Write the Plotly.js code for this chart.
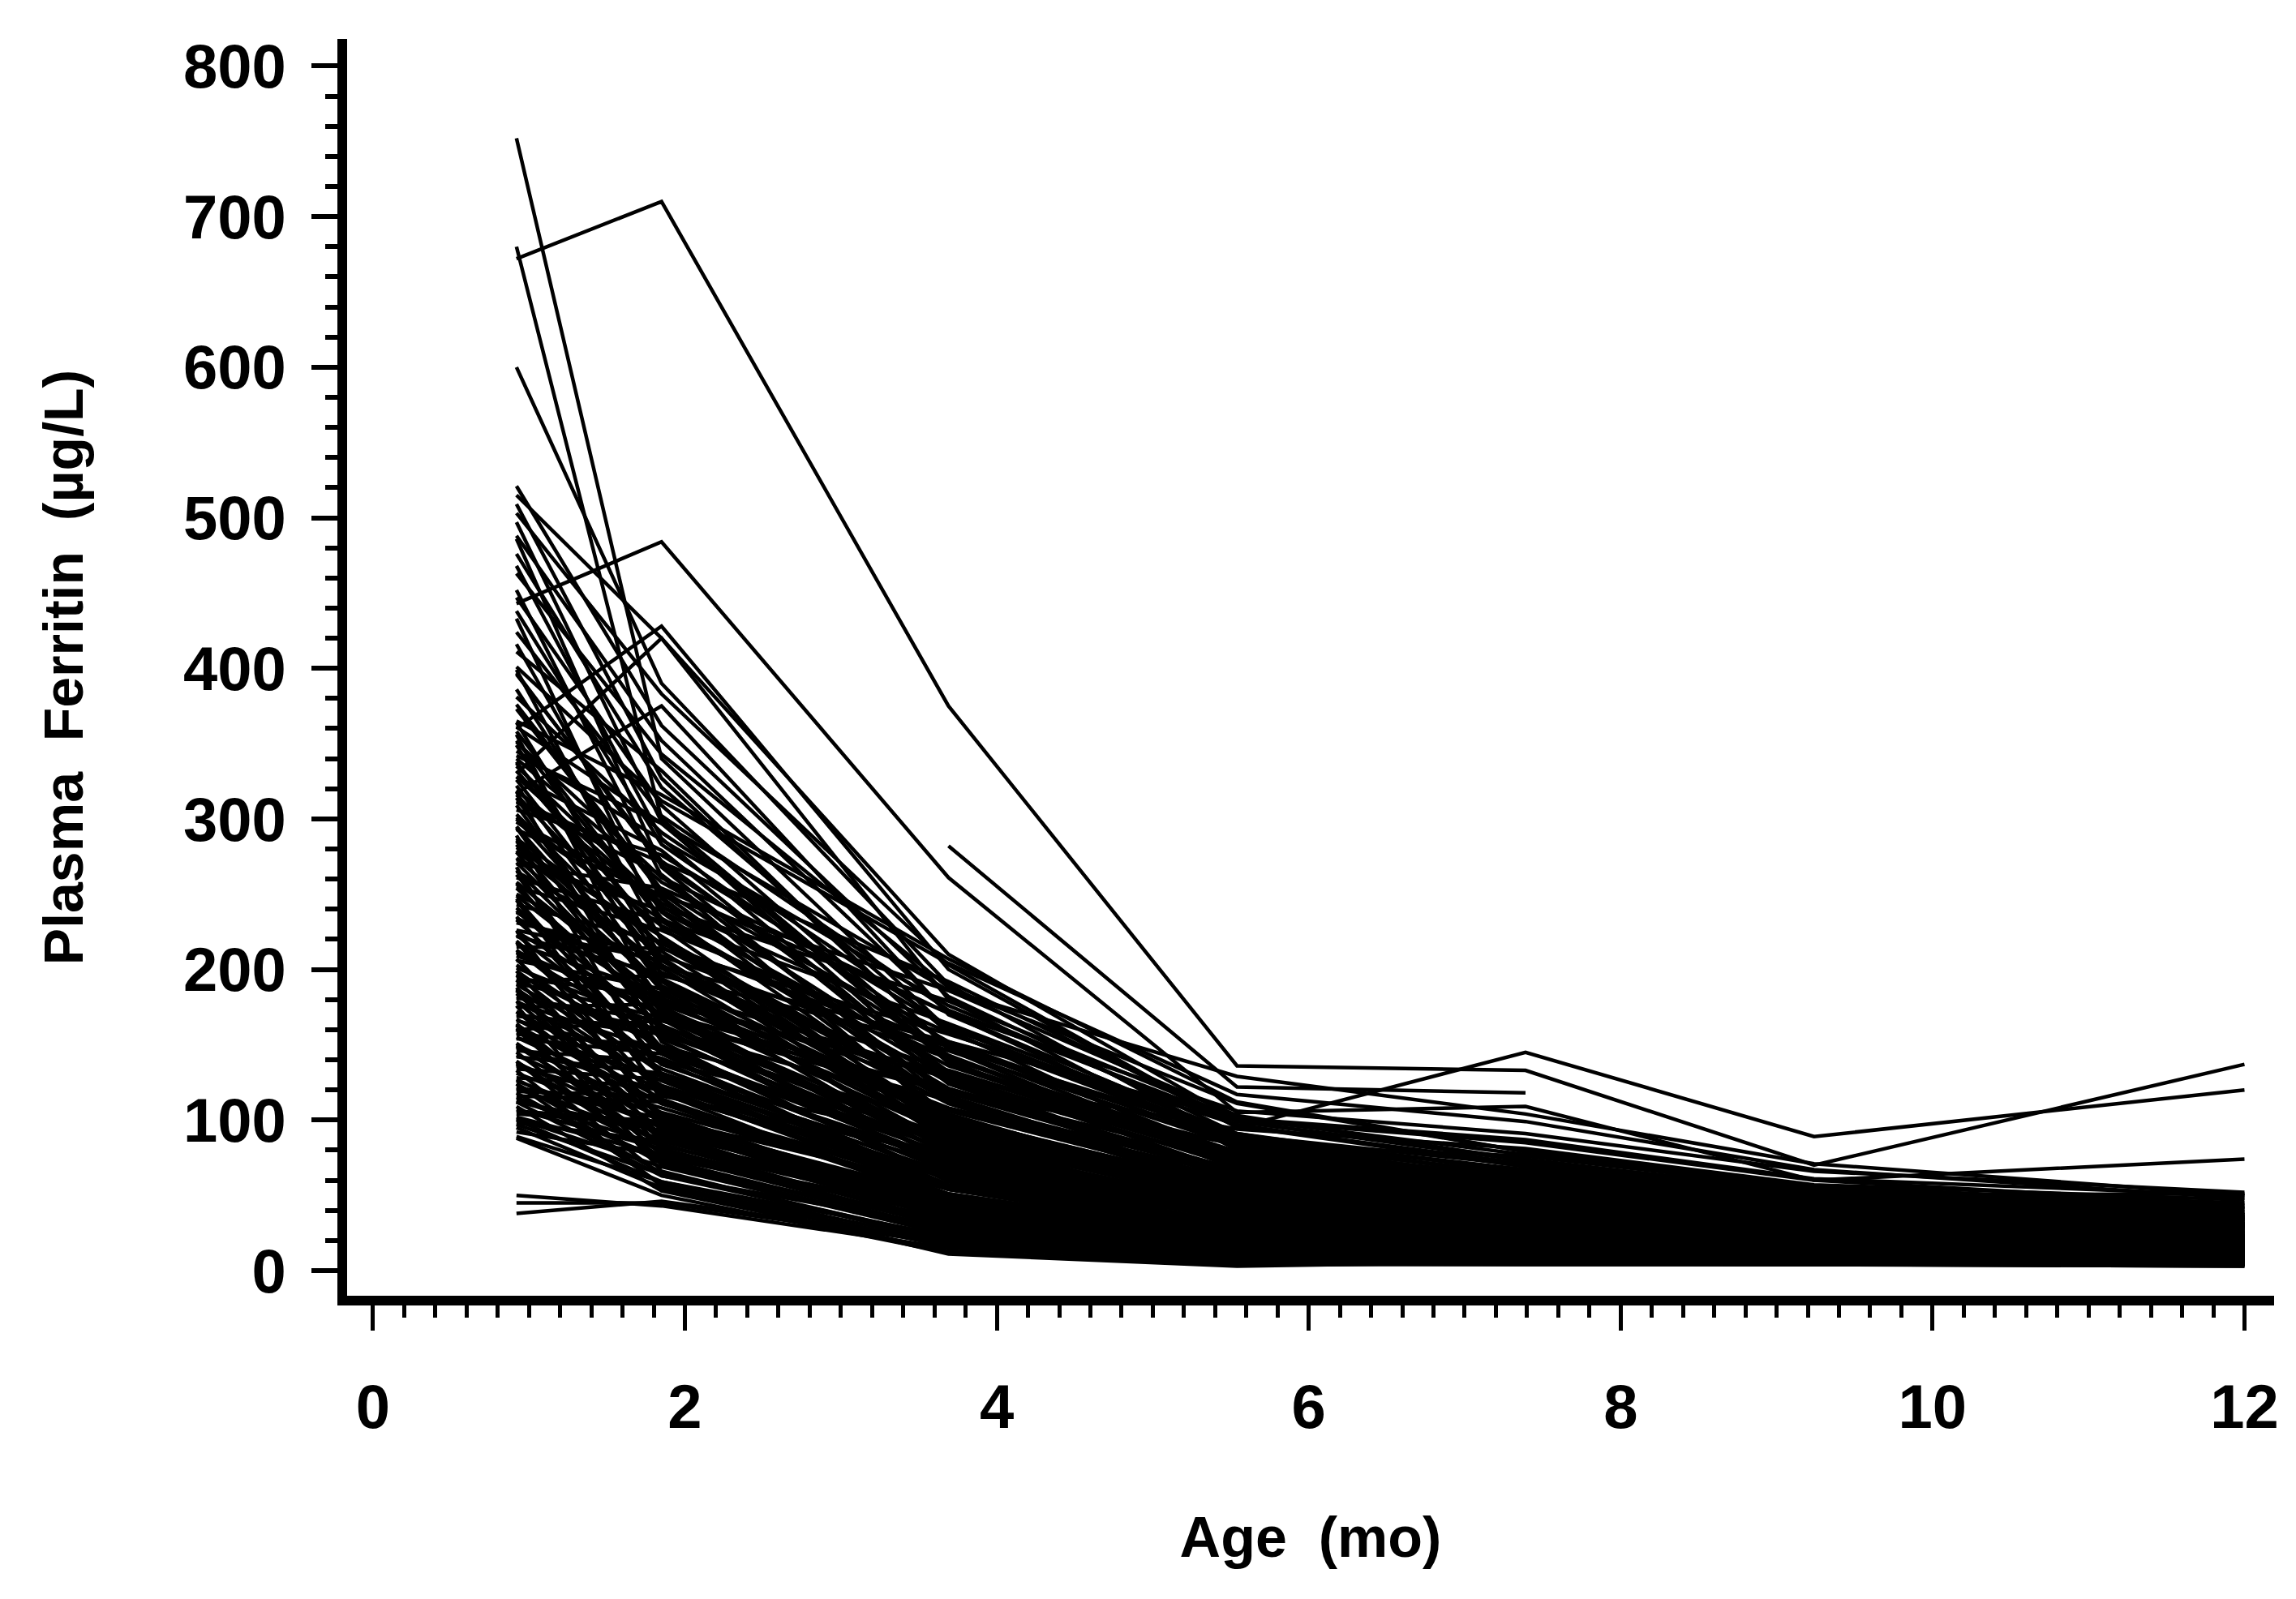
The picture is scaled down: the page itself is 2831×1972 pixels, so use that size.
<!DOCTYPE html>
<html>
<head>
<meta charset="utf-8">
<script src="https://cdn.plot.ly/plotly-3.0.1.min.js"></script>
<style>
  html, body { margin: 0; padding: 0; background: #ffffff; }
  #chart { width: 2831px; height: 1972px; }
</style>
</head>
<body>
<div id="chart"></div>
<script>
// visit ages in months (4, 8, 16, 24, 32, 40, 52 weeks)
var ageMonths = [0.92, 1.85, 3.69, 5.54, 7.39, 9.24, 12.0];

// plasma ferritin (ug/L) per visit, one entry per infant (same order in every array)
var ferritin4wk = [
  672, 752, 680, 600, 443, null, 360, 330, 317, 515,
  521, 509, 503, 497, 488, 486, 476, 468, 463, 452,
  447, 438, 433, 424, 416, 411, 399, 396, 386, 381,
  373, 364, 361, 352, 349, 340, 337, 328, 326, 319,
  314, 311, 303, 301, 295, 293, 286, 283, 281, 274,
  273, 266, 265, 258, 257, 250, 249, 243, 241, 234,
  233, 226, 225, 219, 217, 211, 209, 203, 201, 318,
  356, 289, 246, 306, 261, 197, 196, 191, 190, 184,
  182, 179, 178, 172, 170, 167, 166, 161, 158, 155,
  154, 149, 148, 143, 142, 137, 136, 131, 128, 127,
  122, 121, 116, 115, 112, 107, 106, 101, 98, 97,
  92, 89, 186, 163, 139, 124, 109, 199, 176, 133,
  50, 45, 38, 95, 88, 279, 238, 351, 212, 401, 298,
  345, 335, 312, 298, 287, 270, 255, 231, 222, 206,
  194, 181, 169, 157, 146, 134, 119, 104, 338, 322,
  309, 294, 278, 263, 247, 235, 218, 207, 193, 179,
  164, 151, 139, 124, 112, 100, 268, 226, 188, 160,
  145, 118, 365, 342, 328, 215, 192, 175, 160, 397,
  376, 358, 332, 316, 300, 285, 271, 254, 239, 223,
  213, 199, 187, 172, 163, 150, 138, 126, 113, 102
];
var ferritin8wk = [
  710, 340, 300, 390, 484, null, 428, 420, 375, 420,
  362, 327, 383, 298, 352, 268, 321, 287, 343, 262,
  309, 283, 228, 302, 247, 332, 219, 272, 238, 291,
  251, 208, 297, 233, 192, 258, 221, 279, 203, 242,
  176, 263, 207, 229, 186, 248, 198, 167, 222, 188,
  239, 172, 212, 181, 148, 201, 174, 218, 161, 193,
  144, 206, 169, 131, 184, 156, 177, 139, 163, 152,
  171, 128, 118, 276, 232, 149, 121, 168, 134, 104,
  159, 126, 146, 99, 157, 114, 141, 94, 129, 111,
  144, 91, 119, 102, 131, 84, 108, 96, 122, 79,
  101, 87, 112, 74, 93, 81, 99, 69, 86, 64,
  77, 59, 81, 71, 63, 57, 53, 96, 66, 56,
  43, 45, 46, 55, 50, 202, 179, 261, 171, 312, 249,
  286, 244, 271, 233, 217, 254, 226, 209, 197, 187,
  183, 166, 161, 149, 139, 127, 116, 97, 206, 189,
  179, 163, 159, 144, 137, 129, 117, 111, 101, 97,
  87, 83, 75, 71, 63, 59, 113, 99, 89, 77,
  73, 65, 316, 297, 241, 214, 196, 177, 166, 269,
  253, 234, 221, 215, 194, 189, 175, 169, 154, 147,
  137, 131, 123, 119, 111, 105, 95, 91, 83, 77
];
var ferritin16wk = [
  375, 160, 140, 190, 261, 282, 200, 180, 170, 210,
  182, 148, 203, 128, 171, 112, 158, 127, 188, 98,
  142, 151, 96, 173, 118, 147, 89, 132, 104, 162,
  111, 86, 138, 121, 79, 152, 94, 124, 101, 129,
  71, 116, 88, 141, 76, 103, 119, 66, 99, 84,
  136, 73, 94, 108, 61, 87, 77, 114, 67, 93,
  54, 102, 81, 49, 91, 69, 106, 57, 74, 59,
  64, 56, 44, 161, 126, 71, 51, 83, 63, 41,
  79, 54, 73, 39, 89, 49, 66, 37, 61, 47,
  81, 34, 56, 43, 69, 31, 51, 39, 62, 29,
  46, 35, 54, 27, 41, 33, 49, 24, 37, 21,
  31, 19, 29, 25, 22, 17, 13, 33, 19, 11,
  15, 18, 20, 16, 12, 152, 128, 171, 119, 204, 186,
  176, 158, 192, 164, 146, 171, 149, 141, 133, 129,
  121, 113, 107, 99, 91, 87, 77, 67, 111, 101,
  97, 87, 85, 77, 73, 65, 63, 57, 55, 47,
  45, 39, 37, 31, 29, 23, 49, 41, 37, 29,
  27, 21, 207, 186, 179, 157, 149, 131, 119, 143,
  131, 125, 115, 113, 103, 99, 91, 87, 79, 77,
  71, 69, 63, 61, 56, 54, 48, 46, 41, 39
];
var ferritin24wk = [
  136, 70, 60, 85, 105, 122, 95, 80, 90, 100,
  91, 74, 96, 59, 82, 54, 86, 51, 111, 44,
  71, 77, 41, 99, 63, 67, 37, 73, 49, 87,
  53, 39, 76, 64, 34, 84, 47, 61, 56, 69,
  29, 57, 46, 79, 35, 51, 67, 27, 53, 43,
  75, 33, 49, 63, 25, 45, 37, 59, 31, 47,
  23, 55, 41, 21, 46, 36, 57, 26, 39, 27,
  29, 24, 19, 89, 71, 33, 23, 44, 31, 17,
  41, 25, 37, 16, 48, 22, 34, 15, 29, 21,
  43, 14, 26, 19, 35, 13, 24, 17, 31, 12,
  21, 15, 27, 11, 18, 14, 25, 9, 17, 8,
  13, 7, 11, 10, 8, 6, 4, 13, 5, 3,
  6, 8, 9, 5, 4, 101, 94, 106, 84, 117, 129,
  96, 87, 99, 91, 83, 89, 85, 77, 75, 73,
  67, 64, 59, 56, 51, 49, 43, 39, 57, 55,
  49, 47, 42, 41, 36, 35, 30, 29, 26, 25,
  21, 20, 17, 16, 13, 12, 23, 18, 16, 12,
  11, 8, 112, 103, 101, 97, 89, 83, 73, 71,
  65, 63, 57, 58, 52, 51, 46, 45, 40, 39,
  36, 35, 32, 31, 28, 27, 24, 23, 20, 19
];
var ferritin32wk = [
  133, 45, 38, 55, 109, 118, 145, 60, 70, 85,
  61, 49, 71, 43, 56, 39, 64, 36, 79, 31,
  51, 57, 29, 74, 46, 47, 25, 53, 35, 63,
  37, 29, 54, 49, 24, 61, 33, 44, 41, 50,
  21, 43, 32, 59, 27, 36, 51, 18, 39, 30,
  56, 23, 37, 45, 18, 33, 26, 43, 22, 34,
  15, 42, 28, 14, 35, 24, 44, 19, 27, 20,
  22, 16, 13, 66, 53, 24, 16, 32, 23, 11,
  31, 18, 29, 12, 38, 15, 25, 11, 21, 16,
  33, 9, 19, 14, 28, 8, 17, 12, 25, 8,
  15, 11, 22, 7, 13, 10, 20, 6, 12, 5,
  9, 5, 7, 8, 6, 5, 5, 9, 4, 6,
  5, 6, 7, 5, 4, 87, 81, 91, 76, 99, 104,
  69, 59, 73, 65, 58, 62, 56, 55, 51, 50,
  46, 45, 41, 40, 37, 36, 31, 29, 41, 36,
  34, 33, 29, 28, 25, 24, 21, 20, 18, 17,
  14, 14, 12, 11, 9, 9, 14, 13, 10, 9,
  7, 7, 79, 73, 77, 69, 67, 61, 57, 47,
  44, 43, 40, 41, 37, 36, 33, 32, 29, 28,
  26, 25, 23, 22, 20, 19, 17, 16, 14, 14
];
var ferritin40wk = [
  70, 35, 28, 40, 60, null, 89, 45, 50, 60,
  46, 39, 53, 31, 37, 29, 49, 24, 56, 21,
  36, 43, 19, 51, 33, 35, 17, 41, 27, 45,
  29, 21, 39, 35, 16, 45, 23, 32, 31, 37,
  13, 30, 25, 43, 19, 26, 38, 12, 29, 23,
  41, 16, 27, 33, 11, 24, 18, 31, 14, 26,
  10, 29, 22, 9, 26, 17, 32, 12, 21, 13,
  14, 11, 9, 47, 39, 17, 11, 23, 15, 8,
  21, 13, 19, 7, 28, 11, 17, 7, 15, 10,
  24, 6, 13, 9, 18, 6, 12, 8, 16, 5,
  10, 7, 14, 5, 9, 6, 13, 4, 8, 4,
  6, 4, 5, 5, 4, 4, 4, 6, 4, 5,
  5, 5, 6, 5, 4, 61, 57, 66, 54, 67, 71,
  49, 43, 53, 46, 40, 45, 41, 37, 38, 35,
  32, 31, 29, 28, 26, 25, 22, 20, 30, 26,
  24, 23, 20, 20, 17, 17, 14, 14, 12, 12,
  10, 10, 8, 8, 6, 6, 10, 9, 8, 6,
  6, 5, 56, 51, 55, 49, 48, 43, 41, 33,
  31, 30, 28, 29, 26, 26, 23, 23, 20, 20,
  18, 18, 16, 16, 14, 14, 12, 12, 10, 10
];
var ferritin52wk = [
  137, 30, 22, 30, 74, null, 120, 35, 51, 44,
  36, 31, 41, 24, 29, 23, 37, 17, 43, 15,
  28, 34, 14, 39, 25, 30, 12, 32, 21, 35,
  22, 16, 31, 27, 11, 34, 19, 26, 23, 28,
  9, 25, 19, 33, 12, 21, 29, 8, 22, 17,
  32, 11, 20, 26, 7, 18, 13, 25, 10, 20,
  7, 23, 16, 6, 19, 12, 24, 8, 16, 9,
  10, 8, 6, 37, 30, 12, 8, 19, 11, 5,
  17, 9, 16, 5, 21, 7, 14, 5, 11, 7,
  18, 4, 9, 6, 15, 4, 8, 5, 13, 4,
  7, 5, 12, 4, 6, 4, 9, 3, 6, 3,
  4, 4, 4, 5, 4, 5, 5, 6, 6, 6,
  6, 5, 6, 5, 5, 50, 47, 52, 45, 48, 50,
  37, 31, 39, 34, 29, 33, 30, 27, 28, 26,
  23, 23, 21, 21, 19, 18, 16, 15, 22, 19,
  17, 16, 14, 14, 12, 12, 10, 10, 9, 8,
  7, 7, 6, 6, 5, 5, 7, 7, 6, 5,
  5, 4, 41, 38, 42, 36, 35, 32, 31, 24,
  22, 22, 20, 20, 18, 18, 16, 16, 14, 14,
  13, 12, 11, 11, 10, 9, 9, 8, 7, 7
];

var visits = [ferritin4wk, ferritin8wk, ferritin16wk, ferritin24wk,
              ferritin32wk, ferritin40wk, ferritin52wk];

var fontFamily = "Liberation Sans, Arial, Helvetica, sans-serif";

var plotData = [];
for (var i = 0; i < ferritin4wk.length; i++)
{
    plotData.push({
        x: ageMonths,
        y: visits.map(visit => visit[i]),
        mode: "lines",
        type: "scatter",
        line: { color: "#000000", width: 4.5 },
        hoverinfo: "skip",
        showlegend: false
    });
}

var layout =
{
    width: 2831,
    height: 1972,
    margin: { l: 428, r: 27, t: 48, b: 374 },
    paper_bgcolor: "#ffffff",
    plot_bgcolor: "#ffffff",
    showlegend: false,
    xaxis:
    {
        range: [-0.166, 12.19],
        tick0: 0,
        dtick: 2,
        ticks: "outside",
        ticklen: 31,
        tickwidth: 5,
        tickcolor: "#000000",
        minor: { dtick: 0.2, ticks: "outside", ticklen: 15, tickwidth: 5, tickcolor: "#000000" },
        showline: true,
        linewidth: 12,
        linecolor: "#000000",
        showgrid: false,
        zeroline: false,
        ticklabelstandoff: 29,
        tickfont: { family: fontFamily, size: 76, color: "#000000", weight: 700 },
        title:
        {
            text: "Age\u00a0 (mo)",
            standoff: 100,
            font: { family: fontFamily, size: 70, color: "#000000", weight: 700 }
        }
    },
    yaxis:
    {
        range: [-16.7, 818],
        tick0: 0,
        dtick: 100,
        ticks: "outside",
        ticklen: 32,
        tickwidth: 6,
        tickcolor: "#000000",
        minor: { dtick: 20, ticks: "outside", ticklen: 15, tickwidth: 6, tickcolor: "#000000" },
        showline: true,
        linewidth: 12,
        linecolor: "#000000",
        showgrid: false,
        zeroline: false,
        ticklabelstandoff: 16,
        tickfont: { family: fontFamily, size: 76, color: "#000000", weight: 700 },
        title:
        {
            text: "Plasma\u00a0 Ferritin\u00a0 (µg/L)",
            standoff: 106,
            font: { family: fontFamily, size: 68, color: "#000000", weight: 700 }
        }
    }
};

var config = { staticPlot: true, displayModeBar: false };

Plotly.newPlot("chart", plotData, layout, config);
</script>
</body>
</html>
